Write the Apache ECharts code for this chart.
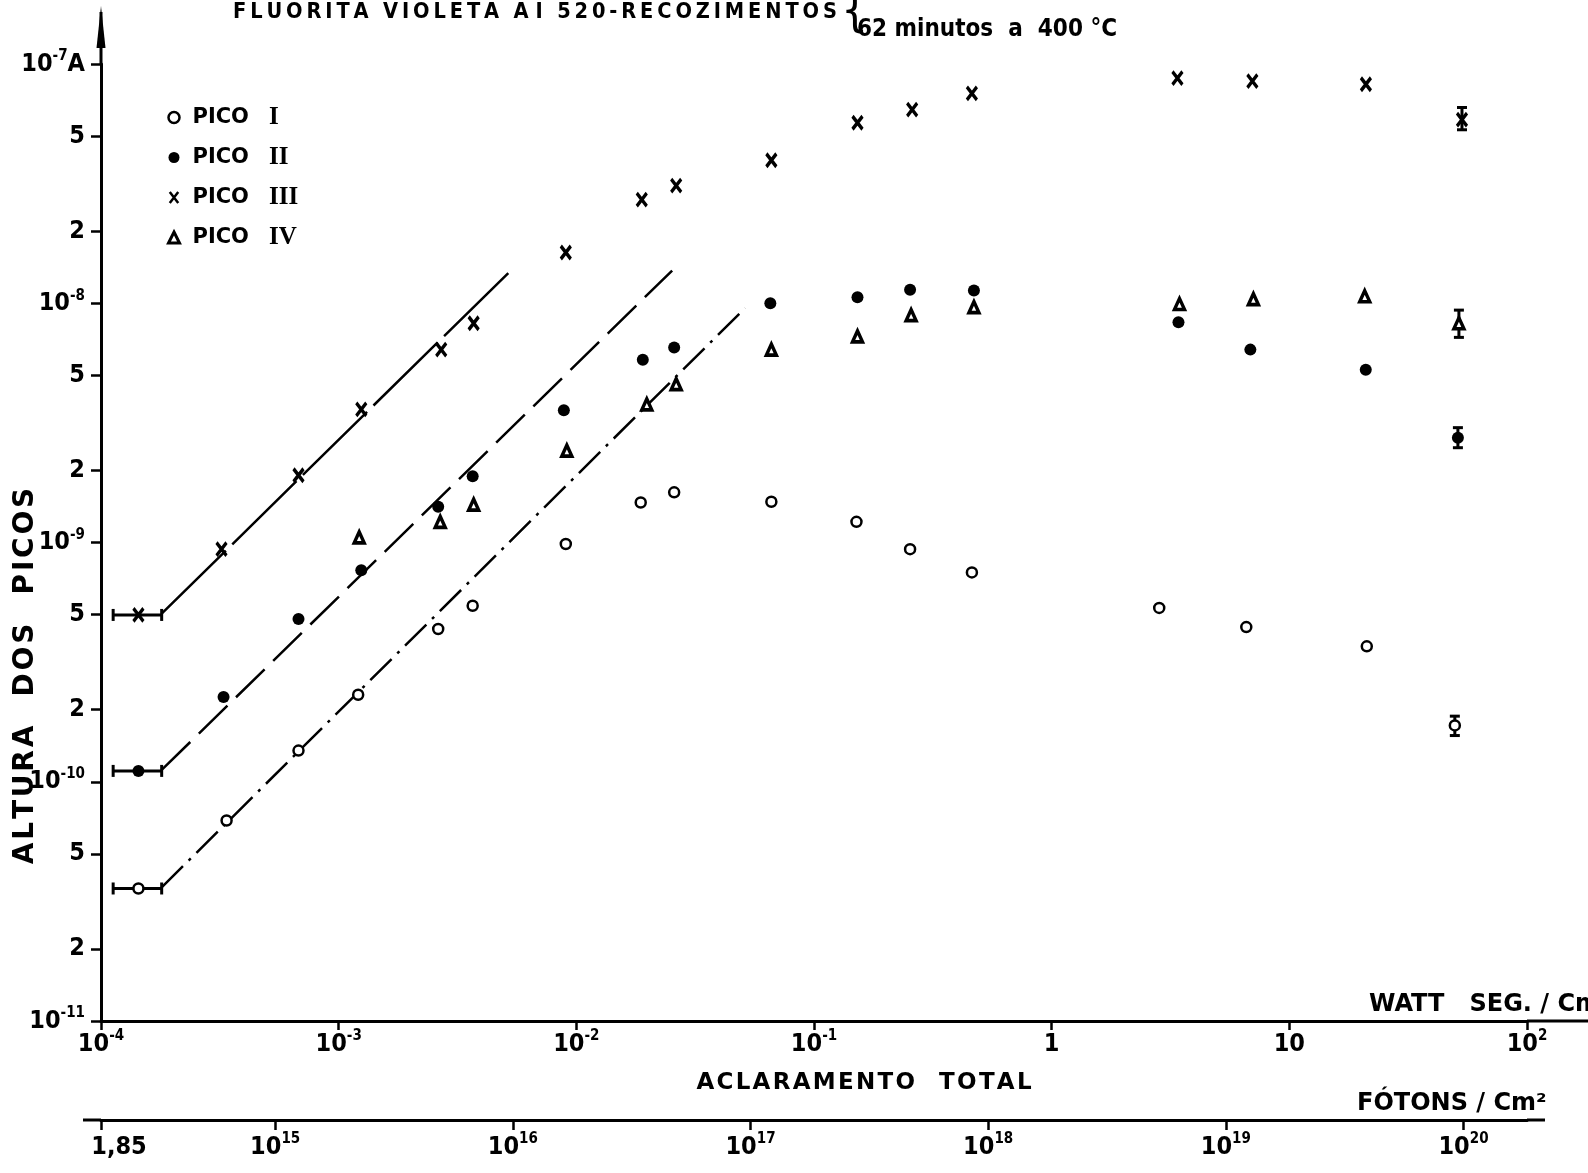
<!DOCTYPE html>
<html><head><meta charset="utf-8">
<script src="https://cdn.jsdelivr.net/npm/echarts@6/dist/echarts.min.js"></script>
<style>html,body{margin:0;padding:0;background:#fff}#c{width:1588px;height:1173px}</style>
</head><body><div id="c"></div>
<script>
// ---- data (W·s/cm², A) ----
const picoI_x  = [1.437e-4, 3.376e-4, 6.776e-4, 1.208e-3, 2.623e-3, 3.663e-3, 9.03e-3, 1.866e-2, 2.58e-2, 6.616e-2, 0.1509, 0.2537, 0.4617, 2.835, 6.59, 21.18, 49.7];
const picoI_y  = [3.58e-11, 6.89e-11, 1.35e-10, 2.31e-10, 4.35e-10, 5.44e-10, 9.86e-10, 1.47e-9, 1.62e-9, 1.48e-9, 1.22e-9, 9.38e-10, 7.50e-10, 5.33e-10, 4.43e-10, 3.68e-10, 1.72e-10];
const picoII_x = [1.437e-4, 3.278e-4, 6.776e-4, 1.245e-3, 2.623e-3, 3.663e-3, 8.86e-3, 1.904e-2, 2.58e-2, 6.55e-2, 0.1524, 0.2537, 0.4709, 3.416, 6.855, 20.97, 51.2];
const picoII_y = [1.11e-10, 2.26e-10, 4.79e-10, 7.65e-10, 1.41e-9, 1.89e-9, 3.57e-9, 5.81e-9, 6.53e-9, 1.00e-8, 1.06e-8, 1.14e-8, 1.13e-8, 8.33e-9, 6.40e-9, 5.27e-9, 2.74e-9];
const picoIII_x = [1.437e-4, 3.214e-4, 6.776e-4, 1.245e-3, 2.701e-3, 3.698e-3, 9.03e-3, 1.885e-2, 2.631e-2, 6.616e-2, 0.1524, 0.2588, 0.4617, 3.382, 6.99, 21.0, 53.26];
const picoIII_y = [4.98e-10, 9.38e-10, 1.91e-9, 3.60e-9, 6.40e-9, 8.25e-9, 1.63e-8, 2.71e-8, 3.10e-8, 3.96e-8, 5.68e-8, 6.45e-8, 7.54e-8, 8.73e-8, 8.48e-8, 8.23e-8, 5.85e-8];
const picoIV_x = [1.220e-3, 2.675e-3, 3.698e-3, 9.12e-3, 1.979e-2, 2.631e-2, 6.616e-2, 0.1524, 0.2562, 0.4709, 3.45, 7.06, 20.76, 51.7];
const picoIV_y = [1.05e-9, 1.22e-9, 1.44e-9, 2.42e-9, 3.78e-9, 4.59e-9, 6.40e-9, 7.27e-9, 8.92e-9, 9.64e-9, 9.93e-9, 1.04e-8, 1.07e-8, 8.25e-9];
// fitted lines [x, y]
const fitI   = [[1.80e-4, 3.62e-11], [5.13e-2, 9.55e-9]];
const fitII  = [[1.80e-4, 1.12e-10], [2.53e-2, 1.37e-8]];
const fitIII = [[1.80e-4, 5.04e-10], [5.26e-3, 1.36e-8]];
// error bars
const errH = [[1.125e-4, 1.80e-4, 3.58e-11], [1.125e-4, 1.80e-4, 1.11e-10], [1.125e-4, 1.80e-4, 4.98e-10]]; // xlo, xhi, y
const errV = [[49.7, 1.56e-10, 1.88e-10], [51.2, 2.49e-9, 3.02e-9], [51.7, 7.20e-9, 9.36e-9], [53.26, 5.31e-8, 6.58e-8]]; // x, ylo, yhi
// tick values (exponents)
const xTicks = [-4, -3, -2, -1, 0, 1, 2];
const yDecades = [-11, -10, -9, -8, -7];
const photonTicks = [14.2672, 15, 16, 17, 18, 19, 20]; // log10(1.85e14), 1e15..1e20
const photonPerWatt = 18.2672; // log10(1.85e18)

const L = Math.log10;
const FF = '"DejaVu Sans", sans-serif';
const FC = '"DejaVu Sans Condensed", "DejaVu Sans", sans-serif';
const pts = (xs, ys) => xs.map((x, i) => [L(x), L(ys[i])]);
const lpts = a => a.map(p => [L(p[0]), L(p[1])]);
const spaced = (s, sp, wg) => s.split(' ').map(w => w.split('').join(sp)).join(wg || '   ');

const yTicks = [];
yDecades.forEach(d => { yTicks.push(d); if (d < -7) { yTicks.push(d + L(2)); yTicks.push(d + L(5)); } });

const rich = {
  b: {fontSize: 25, fontWeight: 'bold', fontFamily: FC, color: '#000', lineHeight: 30},
  c: {fontSize: 25, fontWeight: 'bold', fontFamily: FC, color: '#000', lineHeight: 30, padding: [0, 0, 0, 36]},
  s: {fontSize: 15, fontWeight: 'bold', fontFamily: FC, color: '#000', lineHeight: 15, verticalAlign: 'top'}
};
const isInt = v => Math.abs(v - Math.round(v)) < 1e-6;
function pow10(e) {
  if (e === 0) return '{b|1}';
  if (e === 1) return '{b|10}';
  return '{b|10}{s|' + e + '}';
}

const X_SYM = 'path://M0,0L10,13M10,0L0,13';

const chart = echarts.init(document.getElementById('c'), null, {renderer: 'canvas'});
const roman = {'PICO I': 'I', 'PICO II': 'II', 'PICO III': 'III', 'PICO IV': 'IV'};

const errHSeries = {
  type: 'custom', xAxisIndex: 0, yAxisIndex: 0, silent: true,
  data: errH.map(e => [L(e[0]), L(e[1]), L(e[2])]),
  renderItem: (p, api) => {
    const a = api.coord([api.value(0), api.value(2)]);
    const b = api.coord([api.value(1), api.value(2)]);
    const st = {stroke: '#000', lineWidth: 3};
    return {type: 'group', children: [
      {type: 'line', shape: {x1: a[0], y1: a[1], x2: b[0], y2: b[1]}, style: st},
      {type: 'line', shape: {x1: a[0], y1: a[1] - 6, x2: a[0], y2: a[1] + 6}, style: st},
      {type: 'line', shape: {x1: b[0], y1: b[1] - 6, x2: b[0], y2: b[1] + 6}, style: st}
    ]};
  }
};
const errVSeries = {
  type: 'custom', xAxisIndex: 0, yAxisIndex: 0, silent: true,
  data: errV.map(e => [L(e[0]), L(e[1]), L(e[2])]),
  renderItem: (p, api) => {
    const a = api.coord([api.value(0), api.value(1)]);
    const b = api.coord([api.value(0), api.value(2)]);
    const st = {stroke: '#000', lineWidth: 3};
    return {type: 'group', children: [
      {type: 'line', shape: {x1: a[0], y1: a[1], x2: b[0], y2: b[1]}, style: st},
      {type: 'line', shape: {x1: a[0] - 5, y1: a[1], x2: a[0] + 5, y2: a[1]}, style: st},
      {type: 'line', shape: {x1: b[0] - 5, y1: b[1], x2: b[0] + 5, y2: b[1]}, style: st}
    ]};
  }
};

const option = {
  animation: false,
  backgroundColor: '#fff',
  grid: {left: 101, right: 61, top: 64, bottom: 152, containLabel: false},
  legend: {
    orient: 'vertical', left: 162, top: 100, itemGap: 15, itemWidth: 11, itemHeight: 11,
    data: [
      {name: 'PICO I', itemStyle: {borderWidth: 2.5}},
      {name: 'PICO II'},
      {name: 'PICO III', itemStyle: {borderWidth: 2.5}},
      {name: 'PICO IV', itemStyle: {borderWidth: 3}}
    ],
    formatter: n => '{p|PICO}   {r|' + roman[n] + '}',
    textStyle: {fontSize: 21, fontFamily: FF, color: '#000', rich: {
      p: {fontSize: 21, fontFamily: FF, fontWeight: 'bold', color: '#000', padding: [0, 0, 0, 8]},
      r: {fontSize: 25, fontFamily: '"Liberation Serif", serif', fontWeight: 'bold', color: '#000'}}}
  },
  xAxis: [{
    type: 'value', min: -4, max: 2, position: 'bottom',
    axisLine: {show: true, onZero: false, lineStyle: {color: '#000', width: 3}},
    axisTick: {show: true, customValues: xTicks, length: 9, lineStyle: {color: '#000', width: 2.5}},
    axisLabel: {customValues: xTicks, margin: 8, formatter: v => pow10(Math.round(v)), rich: rich},
    splitLine: {show: false}
  }, {
    type: 'value', min: -4 + photonPerWatt, max: 2 + photonPerWatt, position: 'bottom', offset: 99,
    axisLine: {show: true, onZero: false, lineStyle: {color: '#000', width: 3}},
    axisTick: {show: true, customValues: photonTicks, length: 10, lineStyle: {color: '#000', width: 2.5}},
    axisLabel: {customValues: photonTicks, margin: 12, formatter: v => isInt(v) ? pow10(Math.round(v)) : '{c|1,85}', rich: rich},
    splitLine: {show: false}
  }],
  yAxis: [{
    type: 'value', min: -11, max: -7,
    axisLine: {show: true, onZero: false, lineStyle: {color: '#000', width: 3}},
    axisTick: {show: true, customValues: yTicks, length: 10, lineStyle: {color: '#000', width: 2.5}},
    axisLabel: {customValues: yTicks, margin: 16, rich: rich, formatter: v => {
      if (isInt(v)) { const e = Math.round(v); return e === -7 ? '{b|10}{s|-7}{b|A}' : '{b|10}{s|' + e + '}'; }
      const f = v - Math.floor(v);
      return f < 0.5 ? '{b|2}' : '{b|5}';
    }},
    splitLine: {show: false}
  }],
  series: [
    {type: 'line', data: lpts(fitI), symbol: 'none', silent: true, lineStyle: {color: '#000', width: 2.5, type: [30, 8, 3, 8]}, z: 1},
    {type: 'line', data: lpts(fitII), symbol: 'none', silent: true, lineStyle: {color: '#000', width: 2.5, type: [40, 12]}, z: 1},
    {type: 'line', data: lpts(fitIII), symbol: 'none', silent: true, lineStyle: {color: '#000', width: 2.5, type: [90, 9]}, z: 1},
    errHSeries, errVSeries,
    {name: 'PICO I', type: 'scatter', data: pts(picoI_x, picoI_y), symbol: 'circle', symbolSize: 10,
     itemStyle: {color: '#fff', borderColor: '#000', borderWidth: 2.5, opacity: 1}, z: 5},
    {name: 'PICO II', type: 'scatter', data: pts(picoII_x, picoII_y), symbol: 'circle', symbolSize: 12,
     itemStyle: {color: '#000', opacity: 1}, z: 5},
    {name: 'PICO III', type: 'scatter', data: pts(picoIII_x, picoIII_y), symbol: X_SYM, symbolSize: [10, 13],
     itemStyle: {color: 'rgba(0,0,0,0)', borderColor: '#000', borderWidth: 3.5, opacity: 1}, z: 5},
    {name: 'PICO IV', type: 'scatter', data: pts(picoIV_x, picoIV_y), symbol: 'triangle', symbolSize: [10, 11],
     itemStyle: {color: '#fff', borderColor: '#000', borderWidth: 3.5, opacity: 1}, z: 5}
  ],
  graphic: [
    // axis line extensions and arrow
    {type: 'line', shape: {x1: 1527, y1: 1021, x2: 1588, y2: 1021}, style: {stroke: '#000', lineWidth: 3}},
    {type: 'line', shape: {x1: 101, y1: 64, x2: 101, y2: 12}, style: {stroke: '#000', lineWidth: 3}},
    {type: 'polygon', shape: {points: [[101, 6], [96.5, 48], [105.5, 48]]}, style: {fill: '#000'}},
    {type: 'line', shape: {x1: 83, y1: 1120, x2: 101, y2: 1120}, style: {stroke: '#000', lineWidth: 3}},
    {type: 'line', shape: {x1: 1527, y1: 1120, x2: 1545, y2: 1120}, style: {stroke: '#000', lineWidth: 3}},
    // titles
    {type: 'text', left: 233, top: 1, style: {text: spaced('FLUORITA VIOLETA AI 520-RECOZIMENTOS', '\u2009', '\u2009 \u2009').replace('A\u2009I', 'A I'), font: 'bold 21.6px ' + FC, fill: '#000'}},
    {type: 'text', left: 841, top: -10, style: {text: '{', font: '48px "DejaVu Sans Condensed", "DejaVu Sans"', fill: '#000'}},
    {type: 'text', left: 857, top: 18, style: {text: '62 minutos  a  400 °C', font: 'bold 24px ' + FC, fill: '#000'}},
    {type: 'text', x: 26, y: 676, rotation: Math.PI / 2, style: {text: spaced('ALTURA DOS PICOS', '\u200A'), font: 'bold 28px ' + FF, fill: '#000', align: 'center', verticalAlign: 'middle'}},
    {type: 'text', x: 864, y: 1083, style: {text: spaced('ACLARAMENTO TOTAL', '\u200A'), font: 'bold 23px ' + FF, fill: '#000', align: 'center', verticalAlign: 'middle'}},
    {type: 'text', x: 1369, y: 1005, style: {text: 'WATT   SEG. / Cm²', font: 'bold 24px ' + FF, fill: '#000', align: 'left', verticalAlign: 'middle'}},
    {type: 'text', x: 1357, y: 1104, style: {text: 'FÓTONS / Cm²', font: 'bold 24px ' + FF, fill: '#000', align: 'left', verticalAlign: 'middle'}}
  ]
};
chart.setOption(option);
</script>
</body></html>
